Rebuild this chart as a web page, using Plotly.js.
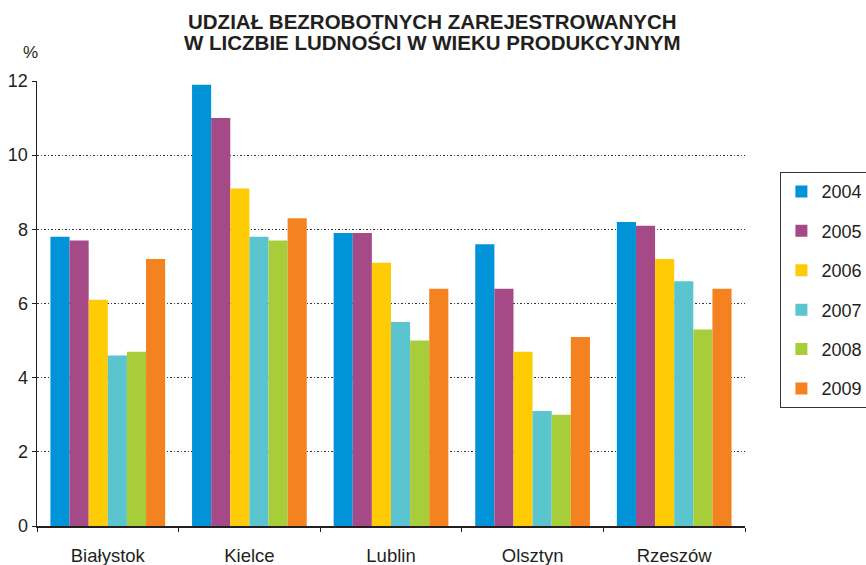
<!DOCTYPE html>
<html>
<head>
<meta charset="utf-8">
<script src="https://cdn.plot.ly/plotly-3.0.1.min.js"></script>
<style>html,body{margin:0;padding:0;background:#fff;}#chart{width:866px;height:565px;}</style>
</head>
<body>
<div id="chart"></div>
<script>
const categories = ["Białystok", "Kielce", "Lublin", "Olsztyn", "Rzeszów"];
const years = ["2004", "2005", "2006", "2007", "2008", "2009"];
const v2004 = [7.8, 11.9, 7.9, 7.6, 8.2];
const v2005 = [7.7, 11.0, 7.9, 6.4, 8.1];
const v2006 = [6.1, 9.1, 7.1, 4.7, 7.2];
const v2007 = [4.6, 7.8, 5.5, 3.1, 6.6];
const v2008 = [4.7, 7.7, 5.0, 3.0, 5.3];
const v2009 = [7.2, 8.3, 6.4, 5.1, 6.4];
const yTicks = [0, 2, 4, 6, 8, 10, 12];
const titleLines = ["UDZIAŁ BEZROBOTNYCH ZAREJESTROWANYCH", "W LICZBIE LUDNOŚCI W WIEKU PRODUKCYJNYM"];
const colors = ["#0093d8", "#a54a86", "#ffcb05", "#5ac5cf", "#a8cd3b", "#f58220"];
const series = [v2004, v2005, v2006, v2007, v2008, v2009];

const traces = series.map((vals, i) => ({
  type: "bar",
  name: years[i],
  x: categories,
  y: vals,
  marker: {color: colors[i], line: {width: 0}},
  legendgroup: "g" + i,
  hoverinfo: "x+y+name"
}));

const font = "Liberation Sans, Arial, sans-serif";
const ink = "#231f20";
const layout = {
  width: 866, height: 565,
  margin: {l: 37, r: 121, t: 81, b: 39, autoexpand: false},
  paper_bgcolor: "#fff", plot_bgcolor: "#fff",
  font: {family: font, color: ink, size: 16},
  barmode: "group",
  bargap: 0.19,
  bargroupgap: 0,
  showlegend: true,
  xaxis: {
    type: "category",
    showline: true, linecolor: ink, linewidth: 1.5,
    ticks: "outside", tickson: "boundaries", ticklen: 4, tickcolor: ink,
    showgrid: false, zeroline: false,
    ticklabelstandoff: 12,
    tickfont: {family: font, size: 18.5, color: ink}
  },
  yaxis: {
    range: [0, 12],
    tickvals: yTicks,
    showline: true, linecolor: ink, linewidth: 1.5,
    ticks: "outside", ticklen: 4, tickcolor: ink,
    showgrid: true, gridcolor: "#333", gridwidth: 1, griddash: "1.5px,2px",
    zeroline: false,
    tickfont: {family: font, size: 18, color: ink}
  },
  legend: {
    x: 1.05, xanchor: "left", y: 0.795, yanchor: "top",
    bordercolor: "#333", borderwidth: 1, bgcolor: "#fff",
    traceorder: "grouped", tracegroupgap: 13,
    font: {family: font, size: 18, color: ink}
  },
  annotations: [
    {
      text: "<b>" + titleLines[0] + "</b>", xref: "paper", yref: "paper",
      x: 0.558, y: 1.134, xanchor: "center", yanchor: "middle",
      showarrow: false, font: {family: font, size: 20.5, color: ink}
    },
    {
      text: "<b>" + titleLines[1] + "</b>", xref: "paper", yref: "paper",
      x: 0.558, y: 1.086, xanchor: "center", yanchor: "middle",
      showarrow: false, font: {family: font, size: 20.5, color: ink}
    },
    {
      text: "%", xref: "paper", yref: "paper",
      x: -0.009, y: 1.063, xanchor: "center", yanchor: "middle",
      showarrow: false, font: {family: font, size: 17, color: ink}
    }
  ]
};
Plotly.newPlot("chart", traces, layout, {displayModeBar: false, staticPlot: true});
</script>
</body>
</html>
